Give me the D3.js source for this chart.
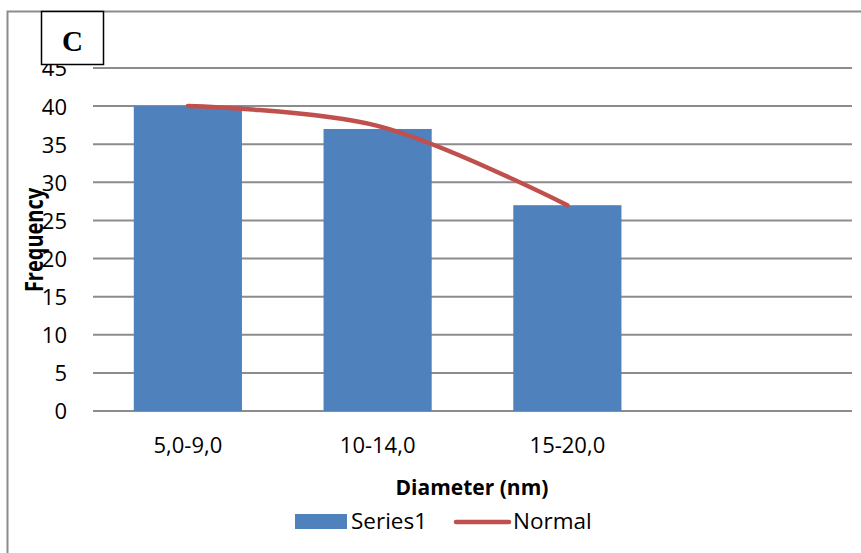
<!DOCTYPE html>
<html>
<head>
<meta charset="utf-8">
<script src="https://cdn.jsdelivr.net/npm/d3@7"></script>
<style>
  body { margin: 0; background: #fff; }
  svg text { font-family: "Open Sans", sans-serif; fill: #000; }
  .grid line { stroke: #8c8c8c; stroke-width: 2; }
</style>
</head>
<body>
<svg id="chart" width="861" height="553"></svg>
<script>
var categories = ["5,0-9,0", "10-14,0", "15-20,0", ""];
var frequency = [40, 37, 27];
var normal = [40, 37.4, 27];
var yTicks = [0, 5, 10, 15, 20, 25, 30, 35, 40, 45];

var margin = {top: 68, left: 93, right: 9, bottom: 142};
var width = 861 - margin.left - margin.right;
var height = 553 - margin.top - margin.bottom;

var svg = d3.select("#chart");

// outer frame (only left + top edges show)
svg.append("path")
    .attr("d", "M 7.5 553 L 7.5 11.5 L 861 11.5")
    .attr("fill", "none")
    .attr("stroke", "#8c8c8c")
    .attr("stroke-width", 2);

var xBand = d3.scaleBand()
    .domain(categories.map(function(d, i) { return i; }))
    .range([0, width]);
var xScale = d3.scaleBand()
    .domain(xBand.domain())
    .range([0, width])
    .paddingInner(0.43)
    .paddingOuter(0.215);
var yScale = d3.scaleLinear().domain([0, 45]).range([height, 0]);

var chart = svg.append("g")
    .attr("transform", `translate(${margin.left}, ${margin.top})`);

chart.append("g")
    .attr("class", "grid")
    .selectAll("line")
    .data(yTicks)
    .enter().append("line")
        .attr("x1", 0)
        .attr("x2", width)
        .attr("y1", function(d) { return yScale(d); })
        .attr("y2", function(d) { return yScale(d); });

var yAxis = d3.axisLeft(yScale).tickValues(yTicks).tickSize(0).tickPadding(26);
chart.append("g")
    .call(yAxis)
    .call(function(g) { g.select(".domain").remove(); })
    .selectAll("text")
        .style("font-size", "22px")
        .attr("dy", "0.36em");

chart.selectAll("rect.bar")
    .data(frequency)
    .enter().append("rect")
        .attr("class", "bar")
        .attr("x", function(d, i) { return xScale(i); })
        .attr("width", xScale.bandwidth())
        .attr("y", function(d) { return yScale(d); })
        .attr("height", function(d) { return height - yScale(d); })
        .attr("fill", "#4f81bd");

var xAxis = d3.axisBottom(xBand)
    .tickFormat(function(i) { return categories[i]; })
    .tickSize(0).tickPadding(26);
chart.append("g")
    .attr("transform", `translate(0, ${height})`)
    .call(xAxis)
    .call(function(g) { g.select(".domain").remove(); })
    .selectAll("text")
        .style("font-size", "22px");

var line = d3.line()
    .x(function(d, i) { return xBand(i) + xBand.bandwidth() / 2; })
    .y(function(d) { return yScale(d); })
    .curve(d3.curveCatmullRom.alpha(0.5));
chart.append("path")
    .datum(normal)
    .attr("d", line)
    .attr("fill", "none")
    .attr("stroke", "#c0504d")
    .attr("stroke-width", 4.5)
    .attr("stroke-linecap", "round");

// axis titles
svg.append("text")
    .attr("x", 472)
    .attr("y", 495)
    .attr("text-anchor", "middle")
    .style("font-size", "21px")
    .style("font-weight", "bold")
    .text("Diameter (nm)");
svg.append("text")
    .attr("transform", "translate(43, 240) rotate(-90) scale(1, 1.25)")
    .attr("text-anchor", "middle")
    .style("font-size", "20px")
    .style("font-weight", "bold")
    .text("Frequency");

// legend
var legend = svg.append("g");
legend.append("rect")
    .attr("x", 295).attr("y", 514)
    .attr("width", 52).attr("height", 15)
    .attr("fill", "#4f81bd");
legend.append("text")
    .attr("x", 351).attr("y", 529)
    .style("font-size", "22.5px")
    .text("Series1");
legend.append("line")
    .attr("x1", 456).attr("x2", 509)
    .attr("y1", 522).attr("y2", 522)
    .attr("stroke", "#c0504d")
    .attr("stroke-width", 4.5)
    .attr("stroke-linecap", "round");
legend.append("text")
    .attr("x", 513).attr("y", 529)
    .style("font-size", "22.5px")
    .text("Normal");

// panel label
svg.append("rect")
    .attr("x", 41.5).attr("y", 11.5)
    .attr("width", 62).attr("height", 53)
    .attr("fill", "#fff")
    .attr("stroke", "#000")
    .attr("stroke-width", 1.5);
svg.append("text")
    .attr("x", 72.5).attr("y", 51)
    .attr("text-anchor", "middle")
    .style("font-family", "'Liberation Serif', serif")
    .style("font-size", "29px")
    .style("font-weight", "bold")
    .text("C");
</script>
</body>
</html>
